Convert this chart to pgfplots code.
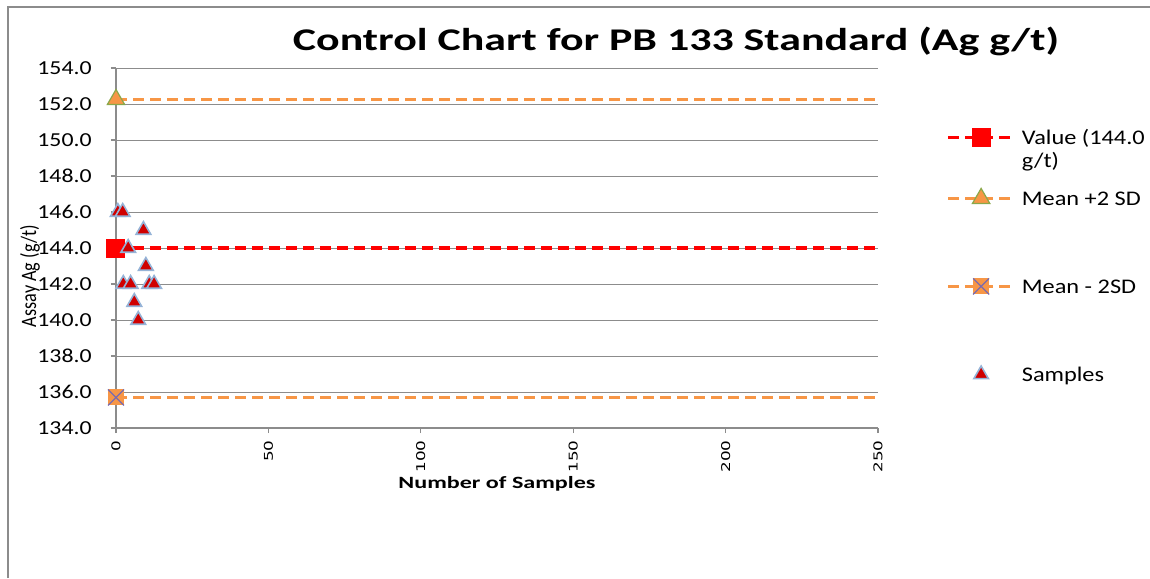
\documentclass[border=0pt]{standalone}
\usepackage{pgfplots}
\pgfplotsset{compat=1.18}
\usepackage{fontspec}
\setmainfont{Carlito}
\newfontfamily\tickfont{DejaVu Sans}
\definecolor{valred}{HTML}{FF0000}
\definecolor{mor}{HTML}{F79646}
\definecolor{tgreen}{HTML}{8AA84A}
\definecolor{xpurple}{HTML}{7B6BAE}
\definecolor{sred}{HTML}{D00000}
\definecolor{sblue}{HTML}{95B3D7}
\definecolor{gridg}{HTML}{8C8C8C}
\pgfdeclareplotmark{sqx}{%
  \pgfpathrectangle{\pgfpoint{-\pgfplotmarksize}{-\pgfplotmarksize}}{\pgfpoint{2\pgfplotmarksize}{2\pgfplotmarksize}}%
  \pgfsetfillcolor{mor}\pgfusepath{fill}%
  \pgfpathmoveto{\pgfpoint{-\pgfplotmarksize}{-\pgfplotmarksize}}\pgfpathlineto{\pgfpoint{\pgfplotmarksize}{\pgfplotmarksize}}%
  \pgfpathmoveto{\pgfpoint{-\pgfplotmarksize}{\pgfplotmarksize}}\pgfpathlineto{\pgfpoint{\pgfplotmarksize}{-\pgfplotmarksize}}%
  \pgfsetstrokecolor{xpurple}\pgfsetlinewidth{0.6pt}\pgfusepath{stroke}}
\pgfplotsset{
  lineleg/.style={legend image code/.code={%
    \draw[##1, mark=none] (0pt,0pt) -- (33pt,0pt);
    \draw[##1, draw=none] plot coordinates {(16.5pt,0pt)};}},
  markleg/.style={legend image code/.code={%
    \draw[##1] plot coordinates {(16.5pt,0pt)};}},
}
\pgfplotstableread{
x y
0.6 146
2.2 146
2.4 142
4.0 144
4.8 142
6.0 141
7.3 140
9.0 145
9.8 143
10.9 142
12.5 142
}\samples
\begin{document}
\begin{tikzpicture}
\path[use as bounding box] (0pt,0pt) rectangle (575pt,-289pt);
\draw[gridg, line width=1pt] (4pt,-289pt) -- (4pt,-3.5pt) -- (575pt,-3.5pt);
\node[anchor=base, inner sep=0pt] at (338pt,-25pt) {\resizebox{383pt}{\height}{\fontsize{15.8}{18}\selectfont\bfseries Control Chart for PB 133 Standard (Ag g/t)}};
\begin{axis}[
  at={(58pt,-214pt)}, anchor=south west,
  scale only axis, width=381pt, height=180pt,
  xmin=0, xmax=250, ymin=134, ymax=154,
  xtick={0,50,...,250}, ytick={134,136,...,154},
  axis lines*=left,
  axis line style={gridg, line width=0.75pt},
  tick style={gridg, line width=0.6pt},
  tick align=outside, major tick length=2.5pt,
  ymajorgrids, major grid style={gridg, line width=0.5pt},
  clip=false,
  yticklabel style={inner sep=0pt, anchor=east, font=\fontsize{9.9}{11}\selectfont,
     /pgf/number format/.cd, fixed, fixed zerofill, precision=1, assume math mode=true},
  yticklabel={\scalebox{1.2}[1]{\pgfmathprintnumber{\tick}}},
  yticklabel shift=9.5pt,
  xticklabel style={inner sep=0pt, rotate=90, anchor=east, font=\tickfont\fontsize{8.4}{9}\selectfont,
     /pgf/number format/.cd, assume math mode=true},
  xticklabel={\scalebox{1}[0.72]{\pgfmathprintnumber{\tick}}},
  xticklabel shift=3.5pt,
  xlabel={\resizebox{98.5pt}{\height}{\fontsize{8.6}{10}\selectfont\bfseries Number of Samples}},
  xlabel style={at={(axis description cs:0.5,-0.169)}, anchor=base, inner sep=0pt},
  legend style={at={(axis description cs:1.0892,0.9083)}, anchor=north west, draw=none, fill=none,
     inner sep=0pt, row sep=0pt, column sep=3pt, nodes={inner sep=0pt, text depth={}},
     font=\fontsize{10.4}{11.5}\selectfont},
  legend cell align=left,
]
\addplot[valred, line width=1.75pt, dash pattern=on 5.5pt off 3pt, mark=square*, mark size=4.5pt,
   mark indices={1}, mark options={solid, fill=valred, draw=valred, line width=0.5pt}, lineleg]
   coordinates {(0,144) (250,144)};
\addlegendentry{\rule[-14.7pt]{0pt}{36pt}\scalebox{1.17}[1]{\parbox[t]{60pt}{Value (144.0\\g/t)}}}
\addplot[mor, line width=1.75pt, dash pattern=on 5.5pt off 3pt, mark=triangle*, mark size=5pt,
   mark indices={1}, mark options={solid, fill=mor, draw=tgreen, line width=0.6pt}, lineleg]
   coordinates {(0,152.25) (250,152.25)};
\addlegendentry{\rule[-9.2pt]{0pt}{25pt}\scalebox{1.17}[1]{Mean +2 SD}}
\addplot[mor, line width=1.75pt, dash pattern=on 5.5pt off 3pt, mark=sqx, mark size=4pt,
   mark indices={1}, mark options={solid}, lineleg]
   coordinates {(0,135.7) (250,135.7)};
\addlegendentry{\rule[-28.2pt]{0pt}{63pt}\scalebox{1.17}[1]{Mean - 2SD}}
\addplot[only marks, mark=triangle*, mark size=4.2pt,
   mark options={fill=sred, draw=sblue, line width=0.8pt}, markleg]
   table[x=x, y=y] {\samples};
\addlegendentry{\rule[-9.2pt]{0pt}{25pt}\scalebox{1.17}[1]{Samples}}
\end{axis}
\node[rotate=90, anchor=center, inner sep=0pt] at (15pt,-138pt) {\resizebox{51pt}{\height}{\fontsize{11}{13}\selectfont Assay Ag (g/t)}};
\end{tikzpicture}
\end{document}
